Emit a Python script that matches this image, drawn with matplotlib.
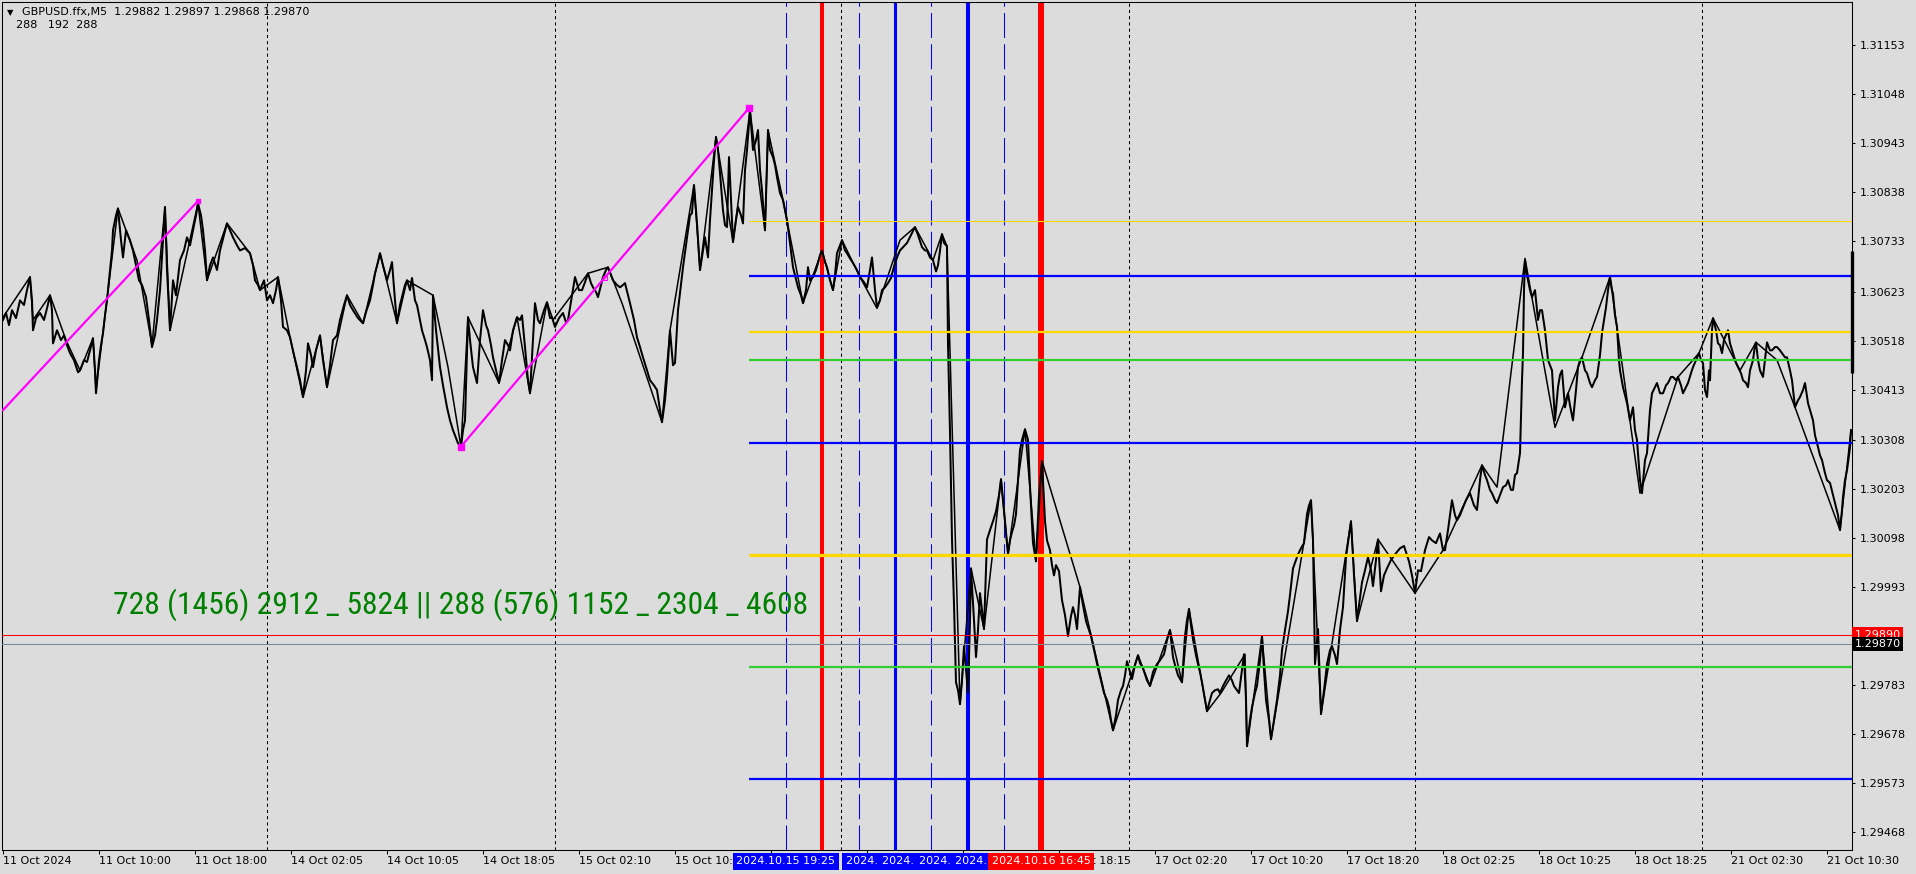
import matplotlib
matplotlib.use("Agg")
import matplotlib.pyplot as plt
import matplotlib.transforms as mtransforms
from matplotlib import font_manager
import numpy as np

BG = "#dcdcdc"

# M5 close line, bar position (1 bar = 1 px) and close in points (1e-5)
bars = [
    3, 6, 9, 12, 16, 20, 24, 27, 30, 32,
    33, 36, 40, 44, 47, 50, 52, 53, 57, 61,
    64, 67, 70, 74, 78, 80, 84, 87, 90, 93,
    95, 96, 99, 101, 103, 105, 107, 110, 112, 113,
    116, 118, 121, 123, 126, 130, 133, 136, 139, 142,
    146, 149, 152, 155, 157, 160, 163, 165, 167, 170,
    173, 176, 180, 184, 187, 190, 193, 196, 198, 201,
    203, 205, 207, 210, 213, 217, 220, 224, 227, 230,
    233, 237, 240, 245, 250, 253, 255, 258, 260, 264,
    267, 270, 273, 276, 278, 281, 283, 287, 290, 294,
    297, 300, 303, 306, 308, 311, 313, 316, 320, 323,
    327, 330, 333, 337, 340, 344, 347, 350, 353, 358,
    363, 366, 370, 373, 375, 378, 380, 383, 387, 390,
    392, 395, 397, 400, 402, 405, 407, 410, 412, 415,
    417, 420, 422, 425, 427, 430, 432, 433, 436, 440,
    443, 447, 450, 453, 456, 458, 461, 463, 465, 468,
    470, 473, 477, 480, 483, 486, 488, 491, 493, 496,
    499, 502, 505, 508, 510, 513, 517, 520, 522, 525,
    528, 530, 533, 535, 538, 540, 544, 547, 550, 552,
    555, 559, 563, 566, 568, 572, 575, 579, 582, 585,
    588, 591, 593, 596, 598, 601, 603, 606, 608, 611,
    613, 617, 620, 623, 625, 628, 630, 634, 637, 640,
    643, 647, 650, 654, 657, 660, 662, 665, 667, 670,
    673, 675, 678, 681, 683, 686, 688, 690, 692, 694,
    697, 700, 703, 705, 708, 710, 712, 714, 716, 718,
    720, 723, 725, 727, 729, 731, 733, 736, 738, 741,
    743, 745, 747, 750, 753, 756, 758, 760, 762, 765,
    768, 770, 773, 775, 777, 780, 783, 787, 790, 793,
    795, 798, 801, 803, 806, 808, 810, 813, 816, 818,
    820, 822, 825, 827, 830, 833, 835, 837, 840, 842,
    845, 847, 850, 853, 857, 860, 864, 867, 870, 872,
    875, 877, 880, 882, 885, 888, 891, 895, 898, 900,
    903, 907, 911, 915, 918, 922, 925, 927, 930, 933,
    936, 938, 940, 942, 944, 947, 948, 950, 952, 954,
    956, 958, 960, 962, 964, 966, 968, 970, 971, 974,
    976, 978, 980, 982, 984, 987, 990, 993, 996, 999,
    1001, 1003, 1005, 1008, 1010, 1012, 1014, 1016, 1018, 1020,
    1022, 1025, 1028, 1030, 1033, 1036, 1039, 1042, 1045, 1047,
    1050, 1052, 1054, 1056, 1059, 1062, 1065, 1068, 1071, 1073,
    1075, 1077, 1080, 1083, 1086, 1089, 1091, 1093, 1095, 1098,
    1101, 1104, 1107, 1109, 1111, 1113, 1116, 1118, 1121, 1123,
    1125, 1127, 1130, 1132, 1135, 1138, 1140, 1143, 1147, 1150,
    1153, 1157, 1160, 1164, 1167, 1170, 1173, 1175, 1178, 1182,
    1185, 1187, 1189, 1191, 1193, 1196, 1198, 1200, 1202, 1205,
    1207, 1210, 1212, 1215, 1218, 1220, 1223, 1226, 1229, 1232,
    1234, 1237, 1239, 1242, 1244, 1246, 1247, 1250, 1252, 1255,
    1257, 1260, 1262, 1264, 1266, 1269, 1271, 1274, 1277, 1280,
    1282, 1285, 1288, 1290, 1293, 1296, 1298, 1301, 1304, 1307,
    1309, 1311, 1313, 1315, 1318, 1321, 1324, 1327, 1330, 1332,
    1335, 1337, 1340, 1343, 1346, 1349, 1351, 1354, 1357, 1360,
    1362, 1365, 1368, 1371, 1373, 1376, 1378, 1381, 1384, 1387,
    1391, 1395, 1400, 1404, 1407, 1409, 1412, 1415, 1418, 1421,
    1425, 1429, 1432, 1436, 1440, 1443, 1445, 1448, 1452, 1455,
    1457, 1460, 1462, 1466, 1470, 1474, 1477, 1480, 1482, 1485,
    1487, 1490, 1492, 1495, 1497, 1500, 1503, 1506, 1508, 1511,
    1513, 1515, 1517, 1520, 1522, 1523, 1524, 1525, 1527, 1528,
    1530, 1532, 1535, 1538, 1540, 1542, 1545, 1548, 1550, 1552,
    1555, 1558, 1560, 1562, 1565, 1568, 1570, 1573, 1576, 1578,
    1580, 1582, 1585, 1587, 1590, 1592, 1595, 1597, 1600, 1602,
    1604, 1606, 1608, 1610, 1612, 1613, 1615, 1617, 1619, 1620,
    1623, 1625, 1627, 1630, 1633, 1635, 1637, 1640, 1642, 1645,
    1647, 1650, 1652, 1655, 1657, 1660, 1663, 1666, 1668, 1671,
    1673, 1676, 1678, 1681, 1683, 1686, 1688, 1691, 1693, 1696,
    1699, 1701, 1703, 1705, 1707, 1709, 1710, 1712, 1713, 1716,
    1718, 1720, 1722, 1724, 1725, 1728, 1730, 1733, 1736, 1738,
    1741, 1743, 1746, 1748, 1750, 1753, 1755, 1756, 1758, 1760,
    1763, 1765, 1767, 1770, 1772, 1775, 1777, 1780, 1782, 1785,
    1787, 1790, 1792, 1795, 1798, 1800, 1803, 1805, 1808, 1810,
    1813, 1815, 1818, 1820, 1822, 1825, 1827, 1830, 1833, 1835,
    1838, 1840, 1842, 1843, 1845, 1847, 1849, 1850, 1851,
]
close_pts = [
    130564, 130579, 130553, 130585, 130568, 130606, 130596, 130628, 130656, 130606,
    130542, 130568, 130579, 130564, 130589, 130617, 130585, 130514, 130542, 130521,
    130531, 130510, 130493, 130478, 130452, 130456, 130478, 130474, 130499, 130525,
    130456, 130407, 130478, 130510, 130536, 130574, 130606, 130671, 130713, 130756,
    130788, 130803, 130735, 130698, 130756, 130735, 130713, 130681, 130649, 130639,
    130613, 130564, 130506, 130531, 130564, 130628, 130735, 130806, 130671, 130542,
    130649, 130617, 130692, 130713, 130741, 130724, 130756, 130788, 130814, 130788,
    130756, 130713, 130649, 130681, 130698, 130671, 130713, 130746, 130771, 130756,
    130741, 130724, 130713, 130718, 130707, 130681, 130649, 130639, 130628, 130649,
    130606, 130617, 130600, 130628, 130656, 130606, 130549, 130542, 130527, 130489,
    130463, 130435, 130399, 130456, 130514, 130489, 130463, 130499, 130531, 130478,
    130420, 130467, 130521, 130531, 130564, 130596, 130617, 130596, 130585, 130568,
    130557, 130581, 130606, 130639, 130664, 130688, 130707, 130681, 130649, 130671,
    130688, 130606, 130557, 130596, 130613, 130639, 130649, 130628, 130654, 130606,
    130596, 130564, 130542, 130521, 130506, 130478, 130435, 130617, 130542, 130463,
    130424, 130377, 130349, 130328, 130311, 130300, 130292, 130328, 130349, 130570,
    130521, 130463, 130429, 130521, 130585, 130553, 130542, 130510, 130484, 130456,
    130429, 130478, 130521, 130510, 130499, 130542, 130570, 130564, 130574, 130506,
    130435, 130407, 130521, 130600, 130564, 130557, 130585, 130602, 130568, 130570,
    130549, 130568, 130579, 130559, 130564, 130617, 130656, 130628, 130628, 130645,
    130664, 130643, 130634, 130624, 130613, 130639, 130656, 130671, 130677, 130660,
    130649, 130639, 130634, 130639, 130643, 130617, 130600, 130564, 130527, 130506,
    130484, 130456, 130435, 130424, 130414, 130371, 130345, 130392, 130442, 130542,
    130467, 130472, 130585, 130639, 130677, 130724, 130756, 130788, 130793, 130853,
    130771, 130671, 130713, 130741, 130698, 130778, 130842, 130906, 130956, 130928,
    130879, 130799, 130767, 130763, 130913, 130821, 130731, 130778, 130806, 130788,
    130771, 130885, 130928, 131013, 130928, 130949, 130971, 130885, 130842, 130756,
    130971, 130928, 130913, 130896, 130870, 130836, 130821, 130778, 130729, 130677,
    130660, 130634, 130617, 130600, 130628, 130677, 130649, 130656, 130671, 130686,
    130703, 130713, 130688, 130677, 130649, 130628, 130660, 130707, 130724, 130735,
    130713, 130707, 130696, 130686, 130671, 130656, 130645, 130634, 130671, 130698,
    130628, 130591, 130606, 130628, 130634, 130643, 130654, 130686, 130703, 130713,
    130720, 130729, 130746, 130763, 130746, 130720, 130713, 130713, 130698, 130692,
    130668, 130681, 130713, 130748, 130729, 130722, 130514, 130324, 130094, 129955,
    129788, 129771, 129741, 129792, 129865, 129814, 129765, 129921, 130032, 129921,
    129842, 129900, 129979, 129942, 129902, 130094, 130114, 130133, 130154, 130189,
    130223, 130178, 130133, 130062, 130092, 130110, 130124, 130148, 130221, 130285,
    130307, 130330, 130307, 130208, 130086, 130047, 130187, 130262, 130133, 130092,
    130071, 130039, 130017, 130039, 130026, 129964, 129932, 129887, 129930, 129949,
    129932, 129902, 129992, 129953, 129919, 129900, 129887, 129868, 129848, 129818,
    129792, 129765, 129750, 129735, 129707, 129685, 129717, 129750, 129771, 129780,
    129803, 129833, 129810, 129795, 129825, 129846, 129829, 129818, 129792, 129780,
    129810, 129827, 129835, 129848, 129878, 129900, 129842, 129825, 129803, 129788,
    129887, 129921, 129945, 129910, 129880, 129846, 129827, 129810, 129788, 129750,
    129726, 129750, 129765, 129771, 129773, 129765, 129780, 129792, 129803, 129792,
    129780, 129771, 129765, 129814, 129848, 129750, 129651, 129707, 129735, 129765,
    129780, 129835, 129887, 129814, 129750, 129707, 129666, 129707, 129750, 129803,
    129857, 129900, 129940, 129975, 130032, 130050, 130062, 130075, 130086, 130148,
    130167, 130178, 130092, 129827, 129902, 129720, 129771, 129827, 129857, 129865,
    129846, 129827, 129900, 129949, 130056, 130103, 130133, 130017, 129919, 129968,
    130002, 130028, 130056, 130028, 129994, 130050, 130094, 129983, 130017, 130032,
    130050, 130062, 130075, 130080, 130060, 130047, 130017, 129979, 130028, 130026,
    130071, 130099, 130092, 130086, 130107, 130071, 130071, 130114, 130178, 130146,
    130135, 130146, 130157, 130178, 130193, 130167, 130157, 130221, 130253, 130232,
    130221, 130200, 130193, 130178, 130172, 130189, 130206, 130210, 130221, 130200,
    130200, 130232, 130236, 130279, 130435, 130493, 130628, 130692, 130660, 130649,
    130628, 130613, 130628, 130564, 130585, 130585, 130542, 130478, 130467, 130456,
    130349, 130420, 130446, 130456, 130377, 130407, 130381, 130349, 130414, 130463,
    130478, 130484, 130456, 130450, 130429, 130420, 130435, 130442, 130489, 130536,
    130564, 130591, 130628, 130656, 130628, 130621, 130574, 130549, 130478, 130456,
    130420, 130403, 130386, 130349, 130377, 130328, 130307, 130221, 130193, 130264,
    130279, 130371, 130407, 130420, 130429, 130407, 130407, 130424, 130429, 130442,
    130442, 130435, 130442, 130424, 130407, 130420, 130429, 130450, 130463, 130478,
    130493, 130478, 130472, 130414, 130399, 130456, 130435, 130542, 130568, 130542,
    130514, 130510, 130493, 130521, 130527, 130542, 130514, 130493, 130472, 130463,
    130450, 130435, 130429, 130420, 130456, 130478, 130510, 130516, 130478, 130456,
    130442, 130478, 130516, 130499, 130499, 130506, 130506, 130499, 130493, 130484,
    130484, 130456, 130435, 130377, 130392, 130399, 130414, 130429, 130386, 130371,
    130349, 130317, 130292, 130274, 130264, 130236, 130221, 130215, 130189, 130172,
    130146, 130114, 130157, 130185, 130221, 130242, 130274, 130292, 130328,
]

# coarser overlay line (swing to swing)
slow_bars = [
    3, 30, 33, 50, 66, 80, 93, 96, 118, 137,
    152, 165, 170, 198, 207, 227, 250, 260, 278, 290,
    303, 320, 327, 347, 363, 380, 397, 407, 433, 448,
    461, 468, 499, 517, 530, 547, 553, 588, 608, 622,
    662, 670, 694, 700, 716, 733, 750, 765, 768, 783,
    803, 822, 833, 842, 860, 877, 900, 915, 933, 942,
    947, 960, 971, 984, 1001, 1008, 1025, 1036, 1042, 1080,
    1113, 1138, 1150, 1170, 1182, 1189, 1207, 1221, 1245, 1247,
    1262, 1271, 1311, 1321, 1351, 1357, 1378, 1415, 1443, 1482,
    1497, 1525, 1555, 1582, 1610, 1640, 1678, 1699, 1713, 1740,
    1756, 1777, 1795, 1840, 1851,
]
slow_pts = [
    130570, 130656, 130564, 130617, 130521, 130456, 130525, 130414, 130803, 130692,
    130510, 130806, 130542, 130814, 130649, 130771, 130707, 130628, 130656, 130527,
    130399, 130531, 130420, 130617, 130557, 130707, 130557, 130649, 130617, 130463,
    130292, 130570, 130429, 130570, 130407, 130602, 130564, 130664, 130677, 130600,
    130345, 130542, 130853, 130671, 130956, 130731, 131013, 130756, 130971, 130821,
    130600, 130713, 130628, 130735, 130656, 130589, 130735, 130763, 130692, 130748,
    130722, 129741, 130032, 129902, 130223, 130062, 130330, 130047, 130262, 129992,
    129685, 129846, 129780, 129900, 129788, 129945, 129726, 129765, 129848, 129651,
    129887, 129666, 130178, 129720, 130133, 129919, 130094, 129979, 130071, 130253,
    130206, 130696, 130334, 130484, 130656, 130193, 130442, 130493, 130568, 130456,
    130516, 130478, 130377, 130114, 130328,
]

# magenta zigzag legs
zz_a_bars = [3, 198]
zz_a_price = [1.30371, 1.30819]
zz_b_bars = [461, 749]
zz_b_price = [1.30293, 1.31018]
zz_mid = (605, 1.30654)

# horizontal levels starting at the swing high
level_prices = [1.30777, 1.30659, 1.30538, 1.30478, 1.30301, 1.30060, 1.29820, 1.29581]
level_colors = ["#ffd700", "#0000ff", "#ffd700", "#32cd32", "#0000ff", "#ffd700", "#32cd32", "#0000ff"]
level_widths = [0.8, 1.6, 1.6, 1.6, 1.6, 2.3, 1.6, 1.6]
level_start = 749
ask_line = 1.29890
bid_line = 1.29870
last_bar = (1.30712, 1.30450)

grid_bars = [267, 555, 841, 1129, 1415, 1702]
dash_bars = [786, 859, 931, 1004]
solid_vlines = [(822, "#ff0000", 2.9), (895, "#0000ff", 2.2), (968, "#0000ff", 2.9), (1041, "#ff0000", 4.3)]

# time boxes under the vertical lines (later ones cover earlier ones)
time_boxes = [
    (786, "2024.10.15 19:25", "#0000ff"),
    (895, "2024.10.16 04:30", "#0000ff"),
    (931, "2024.10.16 07:30", "#0000ff"),
    (968, "2024.10.16 10:35", "#0000ff"),
    (1004, "2024.10.16 13:35", "#0000ff"),
    (1041, "2024.10.16 16:45", "#ff0000"),
]

# time scale; the three labels hidden under the time boxes are left blank
tick_bars = [3, 99, 195, 291, 387, 483, 579, 675, 771, 867,
             963, 1059, 1155, 1251, 1347, 1443, 1539, 1635, 1731, 1827]
tick_labels = ["11 Oct 2024", "11 Oct 10:00", "11 Oct 18:00", "14 Oct 02:05", "14 Oct 10:05",
               "14 Oct 18:05", "15 Oct 02:10", "15 Oct 10:10", "", "",
               "", "16 Oct 18:15", "17 Oct 02:20", "17 Oct 10:20", "17 Oct 18:20",
               "18 Oct 02:25", "18 Oct 10:25", "18 Oct 18:25", "21 Oct 02:30", "21 Oct 10:30"]
price_ticks = ["1.31153", "1.31048", "1.30943", "1.30838", "1.30733", "1.30623", "1.30518", "1.30413",
               "1.30308", "1.30203", "1.30098", "1.29993", "1.29783", "1.29678", "1.29573", "1.29468"]

periods_text = "728 (1456) 2912 _ 5824 || 288 (576) 1152 _ 2304 _ 4608"


def narrow_font():
    # the label font is a narrow sans; use whatever narrow face is installed
    entries = {(f.name, f.stretch) for f in font_manager.fontManager.ttflist}
    names = {n for n, s in entries}
    for name in ["Liberation Sans Narrow", "Roboto Condensed", "Open Sans Condensed", "Noto Sans Condensed"]:
        if name in names:
            return {"family": name}
    if ("DejaVu Sans", "condensed") in entries:
        return {"family": "DejaVu Sans", "stretch": "condensed"}
    return {"family": "DejaVu Sans"}


close = np.array(close_pts) / 1e5
slow = np.array(slow_pts) / 1e5

fig = plt.figure(figsize=(19.16, 8.74), dpi=100, facecolor=BG)
ax = fig.add_axes([2 / 1916, 24 / 874, 1850 / 1916, 848 / 874], facecolor=BG)
ax.set_xlim(2, 1852)
ax.set_ylim(1.294288, 1.312451)

for gx in grid_bars:
    ax.axvline(gx, color="black", lw=0.75, ls=(0, (3, 3)), zorder=1)
for vx in dash_bars:
    ax.axvline(vx, color="#0000ff", lw=0.75, ls=(0, (24, 6)), zorder=2)
for vx, c, w in solid_vlines:
    ax.axvline(vx, color=c, lw=w, zorder=2)

ax.plot(slow_bars, slow, color="black", lw=1.1, zorder=3)
ax.plot(bars, close, color="black", lw=1.45, zorder=3)
ax.plot([1852, 1852], last_bar, color="black", lw=2.4, solid_capstyle="butt", clip_on=False, zorder=6)

ax.hlines(level_prices, level_start, 1852, colors=level_colors, linewidths=level_widths, zorder=4)
ax.axhline(ask_line, color="#ff0000", lw=0.75, zorder=4)
ax.axhline(bid_line, color="#778899", lw=0.75, zorder=4)

ax.plot(zz_a_bars, zz_a_price, color="#ff00ff", lw=1.6, zorder=5)
ax.plot(zz_b_bars, zz_b_price, color="#ff00ff", lw=1.6, zorder=5)
ax.plot(zz_b_bars, zz_b_price, ls="none", marker="s", ms=5, color="#ff00ff", zorder=5)
ax.plot(zz_a_bars[1], zz_a_price[1], ls="none", marker="s", ms=2.5, color="#ff00ff", zorder=5)
ax.plot(*zz_mid, ls="none", marker="s", ms=3.5, mfc="none", mec="#ff00ff", mew=0.8, zorder=5)

ax.yaxis.tick_right()
ax.set_yticks([float(t) for t in price_ticks])
ax.set_yticklabels(price_ticks)
ax.set_xticks(tick_bars)
ax.set_xticklabels(tick_labels, ha="left")
ax.tick_params(axis="y", direction="out", length=2.5, width=0.75, pad=3, labelsize=8, colors="black")
ax.tick_params(axis="x", direction="out", length=3, width=0.75, pad=1.5, labelsize=8, colors="black")
for sp in ax.spines.values():
    sp.set_linewidth(0.75)
    sp.set_color("black")

# price tags on the right scale
tag = mtransforms.blended_transform_factory(ax.transAxes, ax.transData)
ax.text(1.0013, ask_line, "1.29890", transform=tag, fontsize=8, color="white", va="center", ha="left",
        clip_on=False, zorder=7, bbox=dict(boxstyle="square,pad=0.2", fc="#ff0000", ec="none"))
ax.text(1.0013, bid_line, "1.29870", transform=tag, fontsize=8, color="white", va="center", ha="left",
        clip_on=False, zorder=8, bbox=dict(boxstyle="square,pad=0.2", fc="black", ec="none"))

# vertical line time tags below the axis
ttag = mtransforms.blended_transform_factory(ax.transData, ax.transAxes)
for i, (vx, lab, c) in enumerate(time_boxes):
    ax.text(vx, -0.0135, lab, transform=ttag, fontsize=8, color="white", ha="center", va="center",
            clip_on=False, zorder=10 + i, bbox=dict(boxstyle="square,pad=0.3", fc=c, ec="none"))

fig.text(7 / 1916, 1 - 12.5 / 874, "\u25bc", fontsize=6, va="center", ha="left")
fig.text(22 / 1916, 1 - 12.5 / 874, "GBPUSD.ffx,M5  1.29882 1.29897 1.29868 1.29870", fontsize=8,
         va="center", ha="left")
fig.text(16 / 1916, 1 - 25 / 874, "288   192  288", fontsize=8, va="center", ha="left")

label = fig.text(113 / 1916, 1 - 605 / 874, periods_text, fontsize=24, color="#008000",
                 va="center", ha="left", **narrow_font())
# fit the label to the width it has in the chart (about 695 px)
fig.canvas.draw()
w = label.get_window_extent().width
label.set_fontsize(24 * 695 / w)

fig.savefig("out.png", dpi=100, facecolor=BG)
